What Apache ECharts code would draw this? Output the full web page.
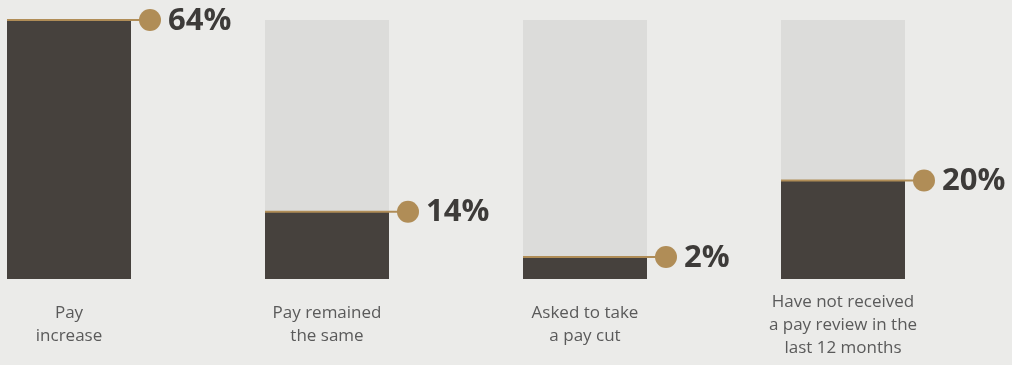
<!DOCTYPE html>
<html>
<head>
<meta charset="utf-8">
<script src="https://cdn.jsdelivr.net/npm/echarts@6/dist/echarts.min.js"></script>
<style>
html,body{margin:0;padding:0;background:#ebebe9;}
#c{width:1012px;height:365px;}
</style>
</head>
<body>
<div id="c"></div>
<script>
// Categories shown under each column
const categories = ['Pay\nincrease', 'Pay remained\nthe same', 'Asked to take\na pay cut', 'Have not received\na pay review in the\nlast 12 months'];
// Percentage labels shown beside each column
const percentLabels = [64, 14, 2, 20];
// Dark fill level of each column (share of column height, %)
const fillLevels = [100, 26, 8.5, 38];

const chart = echarts.init(document.getElementById('c'), null, {renderer: 'canvas'});
const GOLD = '#b08d57';
const BAR_W = 124;

chart.setOption({
  backgroundColor: '#ebebe9',
  animation: false,
  grid: {left: 69, right: 169, top: 20, bottom: 86},
  xAxis: {
    type: 'category',
    data: categories,
    boundaryGap: false,
    axisLine: {show: false},
    axisTick: {show: false},
    splitLine: {show: false},
    axisLabel: {
      interval: 0,
      margin: 46,
      verticalAlign: 'middle',
      fontFamily: 'Open Sans',
      fontSize: 17,
      lineHeight: 23,
      color: '#5a5a5a',
      align: 'center'
    }
  },
  yAxis: {
    type: 'value',
    min: 0,
    max: 100,
    show: false,
    splitLine: {show: false}
  },
  series: [
    {
      type: 'bar',
      data: fillLevels,
      barWidth: BAR_W,
      clip: false,
      showBackground: true,
      backgroundStyle: {color: '#dcdcda'},
      itemStyle: {color: '#46413d'},
      silent: true
    },
    {
      type: 'custom',
      clip: false,
      data: fillLevels.map((h, i) => [i, h, percentLabels[i]]),
      renderItem: function (params, api) {
        const p = api.coord([api.value(0), api.value(1)]);
        const left = p[0] - BAR_W / 2;
        const dotX = p[0] + BAR_W / 2 + 19;
        const r = 11;
        return {
          type: 'group',
          children: [
            {type: 'line', shape: {x1: left, y1: p[1], x2: dotX, y2: p[1]}, style: {stroke: GOLD, lineWidth: 2}},
            {type: 'circle', shape: {cx: dotX, cy: p[1], r: r}, style: {fill: GOLD}},
            {type: 'text', x: dotX + r + 7, y: p[1] + 1, style: {
              text: api.value(2) + '%', fill: '#3d3b39', fontFamily: 'Open Sans', fontWeight: 'bold',
              fontSize: 31, verticalAlign: 'middle', align: 'left'}}
          ]
        };
      },
      z: 5
    }
  ]
});
</script>
</body>
</html>
